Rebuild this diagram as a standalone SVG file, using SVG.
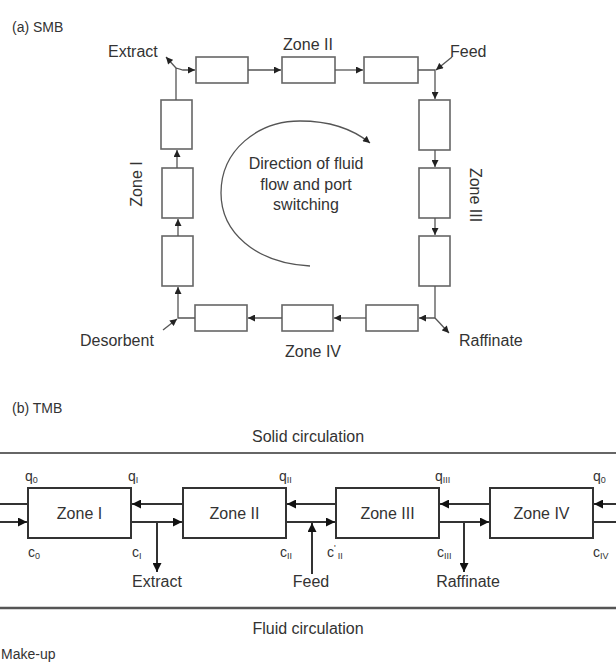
<svg xmlns="http://www.w3.org/2000/svg" width="616" height="663" viewBox="0 0 616 663">
<defs>
<style>
text{font-family:"Liberation Sans",Arial,sans-serif;fill:#333;}
.t16{font-size:16px;}
.t14{font-size:14px;}
.mid{text-anchor:middle;}
.col{fill:#fff;stroke:#666;stroke-width:1.6;}
.ca{fill:none;stroke:#555;stroke-width:1.3;}
.zb{fill:#fff;stroke:#333;stroke-width:2;}
.cb{fill:none;stroke:#333;stroke-width:2;}
.sub{font-size:9px;}
</style>
<marker id="ma" viewBox="0 0 10 10" refX="10" refY="5" markerWidth="8" markerHeight="7" markerUnits="userSpaceOnUse" orient="auto">
<path d="M0,0 L10,5 L0,10 z" fill="#222"/>
</marker>
<marker id="mb" viewBox="0 0 10 10" refX="10" refY="5" markerWidth="11" markerHeight="9" markerUnits="userSpaceOnUse" orient="auto">
<path d="M0,0 L10,5 L0,10 z" fill="#111"/>
</marker>
</defs>
<rect width="616" height="663" fill="#fff"/>

<!-- (a) SMB -->
<text class="t14" x="12" y="32">(a) SMB</text>

<g id="smb-columns">
<g id="col-top1"><rect class="col" x="196" y="57" width="52" height="26"/></g>
<g id="col-top2"><rect class="col" x="282" y="57" width="53" height="26"/></g>
<g id="col-top3"><rect class="col" x="364" y="57" width="54" height="26"/></g>
<g id="col-right1"><rect class="col" x="419" y="100" width="31" height="50"/></g>
<g id="col-right2"><rect class="col" x="419" y="168" width="31" height="50"/></g>
<g id="col-right3"><rect class="col" x="419" y="236" width="31" height="50"/></g>
<g id="col-bot3"><rect class="col" x="366" y="305" width="52" height="26"/></g>
<g id="col-bot2"><rect class="col" x="282" y="305" width="51" height="26"/></g>
<g id="col-bot1"><rect class="col" x="195" y="305" width="52" height="26"/></g>
<g id="col-left3"><rect class="col" x="162" y="236" width="31" height="50"/></g>
<g id="col-left2"><rect class="col" x="162" y="168" width="31" height="50"/></g>
<g id="col-left1"><rect class="col" x="161" y="100" width="31" height="49"/></g>
</g>

<g id="smb-connectors">
<!-- top row -->
<path class="ca" d="M176,100 V68 L183,70 H195" marker-end="url(#ma)"/>
<path class="ca" d="M176,68 L166,57" marker-end="url(#ma)"/>
<path class="ca" d="M248,70 H281" marker-end="url(#ma)"/>
<path class="ca" d="M335,70 H363" marker-end="url(#ma)"/>
<path class="ca" d="M418,70 H435 V99" marker-end="url(#ma)"/>
<path class="ca" d="M452,57 L436,70" marker-end="url(#ma)"/>
<!-- right column -->
<path class="ca" d="M435,150 V167" marker-end="url(#ma)"/>
<path class="ca" d="M435,218 V235" marker-end="url(#ma)"/>
<path class="ca" d="M435,286 V318 H419" marker-end="url(#ma)"/>
<path class="ca" d="M435,318 L449,333" marker-end="url(#ma)"/>
<!-- bottom row -->
<path class="ca" d="M366,318 H334" marker-end="url(#ma)"/>
<path class="ca" d="M282,318 H248" marker-end="url(#ma)"/>
<path class="ca" d="M195,318 H178 V287" marker-end="url(#ma)"/>
<path class="ca" d="M163,330 L177,319" marker-end="url(#ma)"/>
<!-- left column -->
<path class="ca" d="M178,236 V219" marker-end="url(#ma)"/>
<path class="ca" d="M177,168 V150" marker-end="url(#ma)"/>
<!-- direction arc -->
<path class="ca" d="M310,266 C255,263 221,232 221,193 C221,150 258,121 300,121 C330,121 354,130 370,143" marker-end="url(#ma)"/>
</g>

<g id="smb-labels">
<text class="t16" x="108" y="57">Extract</text>
<text class="t16 mid" x="308" y="50">Zone II</text>
<text class="t16" x="450" y="57">Feed</text>
<text class="t16" x="80" y="346">Desorbent</text>
<text class="t16 mid" x="313" y="357">Zone IV</text>
<text class="t16" x="459" y="346">Raffinate</text>
<text class="t16 mid" transform="translate(142,184) rotate(-90)">Zone I</text>
<text class="t16 mid" transform="translate(470,195) rotate(90)">Zone III</text>
<text class="t16 mid" x="306" y="169">Direction of fluid</text>
<text class="t16 mid" x="306" y="190">flow and port</text>
<text class="t16 mid" x="306" y="210">switching</text>
</g>

<!-- (b) TMB -->
<text class="t14" x="12" y="413">(b) TMB</text>
<text class="t16 mid" x="308" y="442">Solid circulation</text>
<line x1="0" y1="453" x2="616" y2="453" stroke="#333" stroke-width="1.6"/>

<g id="tmb-zone1"><rect class="zb" x="28" y="488" width="103" height="50"/><text class="t16 mid" x="79.5" y="519">Zone I</text></g>
<g id="tmb-zone2"><rect class="zb" x="183" y="488" width="103" height="50"/><text class="t16 mid" x="234.5" y="519">Zone II</text></g>
<g id="tmb-zone3"><rect class="zb" x="336" y="488" width="103" height="50"/><text class="t16 mid" x="387.5" y="519">Zone III</text></g>
<g id="tmb-zone4"><rect class="zb" x="490" y="488" width="103" height="50"/><text class="t16 mid" x="541.5" y="519">Zone IV</text></g>

<g id="tmb-connectors">
<path class="cb" d="M616,504 H594" marker-end="url(#mb)"/>
<path class="cb" d="M490,504 H440" marker-end="url(#mb)"/>
<path class="cb" d="M336,504 H287" marker-end="url(#mb)"/>
<path class="cb" d="M183,504 H132" marker-end="url(#mb)"/>
<path class="cb" d="M28,504 H0"/>
<path class="cb" d="M0,522 H27" marker-end="url(#mb)"/>
<path class="cb" d="M131,522 H182" marker-end="url(#mb)"/>
<path class="cb" d="M286,522 H335" marker-end="url(#mb)"/>
<path class="cb" d="M439,522 H489" marker-end="url(#mb)"/>
<path class="cb" d="M593,522 H616"/>
<path class="cb" d="M157,522 V572" marker-end="url(#mb)"/>
<path class="cb" d="M312,574 V523" marker-end="url(#mb)"/>
<path class="cb" d="M464,522 V572" marker-end="url(#mb)"/>
</g>

<g id="tmb-labels">
<text class="t14" x="25" y="481">q<tspan class="sub" dy="2">0</tspan></text>
<text class="t14" x="128" y="481">q<tspan class="sub" dy="2">I</tspan></text>
<text class="t14" x="279" y="481">q<tspan class="sub" dy="2">II</tspan></text>
<text class="t14" x="435" y="481">q<tspan class="sub" dy="2">III</tspan></text>
<text class="t14" x="593" y="481">q<tspan class="sub" dy="2">0</tspan></text>
<text class="t14" x="28" y="557">c<tspan class="sub" dy="2">0</tspan></text>
<text class="t14" x="132" y="557">c<tspan class="sub" dy="2">I</tspan></text>
<text class="t14" x="280" y="557">c<tspan class="sub" dy="2">II</tspan></text>
<text class="t14" x="327" y="557">c<tspan class="sub" dy="-6">'</tspan><tspan class="sub" dx="2" dy="8">II</tspan></text>
<text class="t14" x="437" y="557">c<tspan class="sub" dy="2">III</tspan></text>
<text class="t14" x="593" y="557">c<tspan class="sub" dy="2">IV</tspan></text>
<text class="t16 mid" x="157" y="587">Extract</text>
<text class="t16 mid" x="311" y="587">Feed</text>
<text class="t16 mid" x="468" y="587">Raffinate</text>
</g>

<line x1="0" y1="608" x2="616" y2="608" stroke="#555" stroke-width="2.5"/>
<text class="t16 mid" x="308" y="634">Fluid circulation</text>
<text class="t14" x="1" y="659">Make-up</text>
</svg>
